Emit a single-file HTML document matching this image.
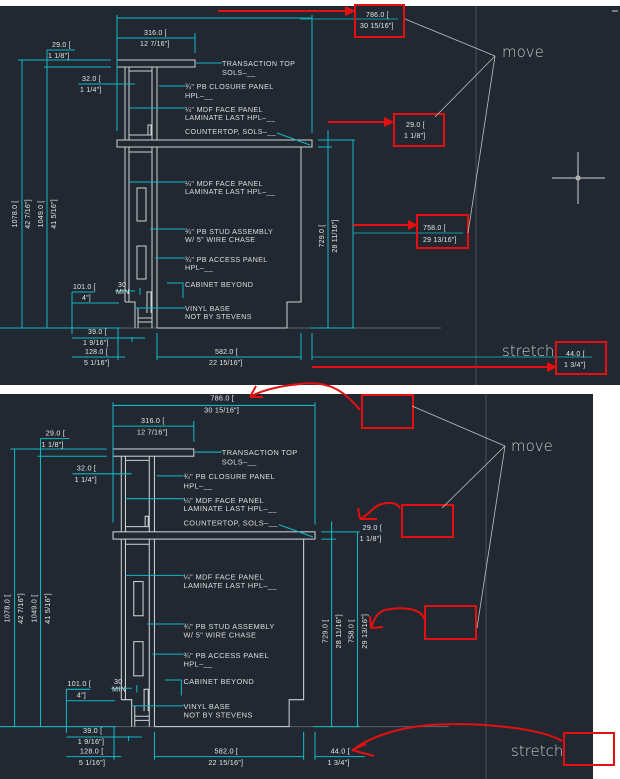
<!DOCTYPE html>
<html><head><meta charset="utf-8"><style>
html,body{margin:0;padding:0;background:#fff;width:620px;height:779px;overflow:hidden}
svg{display:block}
text{font-family:"Liberation Sans",sans-serif}
.t{fill:#dcdcdc;font-size:7.2px;letter-spacing:0.35px}
.d{fill:#e6e6e6;font-size:7px;letter-spacing:0.2px}
.g{stroke:#cfd2d4;stroke-width:1;fill:none}
.c{stroke:#10b8c4;stroke-width:1;fill:none}
.c2{stroke:#0e9aa4;stroke-width:1;fill:none}
.r{stroke:#e41010;stroke-width:2;fill:none}
.big{fill:#c8c8c8;font-size:15px;font-family:"DejaVu Sans","Liberation Sans",sans-serif;font-weight:300}
</style></head><body>
<svg width="620" height="779" viewBox="0 0 620 779" xmlns="http://www.w3.org/2000/svg">
<rect x="0" y="0" width="620" height="779" fill="#fff"/>
<rect x="0" y="6" width="620" height="379" fill="#222831"/>
<rect x="0" y="394" width="593" height="385" fill="#222831"/>

<!-- ===== TOP PANEL DRAWING ===== -->
<g id="top">
<line x1="476" y1="6" x2="476" y2="385" stroke="#4a5058"/>
<line x1="0" y1="328" x2="441" y2="328" stroke="#5a6068"/>
<!-- geometry -->
<rect class="g" x="117" y="60" width="78" height="7"/>
<rect class="g" x="117" y="140" width="195" height="7"/>
<path class="g" d="M125 67V140M129 67V140M152 67V140M157 67V140M129 71H152M129 135H152M148 135V125H151V135"/>
<path class="g" d="M125 147V302M129 147V302M152 147V328M157 147V328M129 152H152M125 302H135V328M138 308V328M138 318H152M138 322H152M147 313V292H151V313M301 147V302H287V328H157"/>
<rect class="g" x="137" y="188" width="9" height="33"/>
<rect class="g" x="137" y="246" width="9" height="33"/>
<!-- dims -->
<path class="c" d="M117 38H195M117 15V131M195 33V53M117 18H312M312 15V133"/>
<path class="c" d="M18 60H111M44 67H111M47 50H75M47 50V328M22 60V328M0 328H120"/>
<path class="c" d="M78 84H135M72 292H95M72 303H119M72 292V334M72 338H145M72 357H125M118 328V360M157 333V360M157 357H301M301 333V360M312 333V360M132 337V342"/>
<path class="c" d="M318 140H355M318 147H332M328 130V328M353 140V328M310 328H355"/>
<path class="c" d="M115 291H135M140 288V295"/>
<!-- leaders -->
<path class="c" d="M196 63H222M159 86H185M129 108H185M129 182H185M150 229H185M155 258H185M167 283H183L183 298M135 308H185M277 133L310 145"/>
<!-- labels -->
<text class="t" x="222" y="66">TRANSACTION TOP</text>
<text class="t" x="222" y="75">SOLS–__</text>
<text class="t" x="185" y="89">¾" PB CLOSURE PANEL</text>
<text class="t" x="185" y="98">HPL–__</text>
<text class="t" x="185" y="112">¼" MDF FACE PANEL</text>
<text class="t" x="185" y="120">LAMINATE LAST HPL–__</text>
<text class="t" x="185" y="134">COUNTERTOP, SOLS–__</text>
<text class="t" x="185" y="186">¼" MDF FACE PANEL</text>
<text class="t" x="185" y="194">LAMINATE LAST HPL–__</text>
<text class="t" x="185" y="234">¾" PB STUD ASSEMBLY</text>
<text class="t" x="185" y="242">W/ 5" WIRE CHASE</text>
<text class="t" x="185" y="262">¾" PB ACCESS PANEL</text>
<text class="t" x="185" y="270">HPL–__</text>
<text class="t" x="185" y="287">CABINET BEYOND</text>
<text class="t" x="185" y="311">VINYL BASE</text>
<text class="t" x="185" y="319">NOT BY STEVENS</text>
<text class="d" x="118" y="287">30</text>
<text class="d" x="116" y="294">MIN</text>
<text class="d" x="144" y="35">316.0 [</text>
<text class="d" x="140" y="46">12 7/16"]</text>
<text class="d" x="52" y="47">29.0 [</text>
<text class="d" x="48" y="58">1 1/8"]</text>
<text class="d" x="82" y="81">32.0 [</text>
<text class="d" x="80" y="92">1 1/4"]</text>
<text class="d" x="73" y="289">101.0 [</text>
<text class="d" x="82" y="300">4"]</text>
<text class="d" x="88" y="334">39.0 [</text>
<text class="d" x="83" y="345">1 9/16"]</text>
<text class="d" x="85" y="354">128.0 [</text>
<text class="d" x="84" y="365">5 1/16"]</text>
<text class="d" x="215" y="354">582.0 [</text>
<text class="d" x="209" y="365">22 15/16"]</text>
<text class="d" transform="translate(17,214) rotate(-90)" text-anchor="middle">1078.0 [</text>
<text class="d" transform="translate(30,214) rotate(-90)" text-anchor="middle">42 7/16"]</text>
<text class="d" transform="translate(43,214) rotate(-90)" text-anchor="middle">1049.0 [</text>
<text class="d" transform="translate(56,214) rotate(-90)" text-anchor="middle">41 5/16"]</text>
<text class="d" transform="translate(324,236) rotate(-90)" text-anchor="middle">729.0 [</text>
<text class="d" transform="translate(337,236) rotate(-90)" text-anchor="middle">28 11/16"]</text>
</g>
<!-- top-only -->
<path class="c2" d="M300 19H398M353 233H463M312 357H592"/>
<path class="r" d="M218 11H345"/><polygon points="345,6 356,11 345,16" fill="#e41010"/>
<rect class="r" x="355" y="5" width="49" height="32"/>
<text class="d" x="366" y="17">786.0 [</text>
<text class="d" x="360" y="28">30 15/16"]</text>
<path class="r" d="M328 122H384"/><polygon points="384,117 394,122 384,127" fill="#e41010"/>
<rect class="r" x="394" y="114" width="50" height="32"/>
<text class="d" x="406" y="127">29.0 [</text>
<text class="d" x="404" y="138">1 1/8"]</text>
<path class="r" d="M353 225H408"/><polygon points="408,220 418,225 408,230" fill="#e41010"/>
<rect class="r" x="417" y="215" width="51" height="33"/>
<text class="d" x="423" y="230">758.0 [</text>
<text class="d" x="423" y="242">29 13/16"]</text>
<path class="r" d="M312 367H547"/><polygon points="547,362 557,367 547,372" fill="#e41010"/>
<rect class="r" x="556" y="342" width="50" height="32"/>
<text class="d" x="566" y="356">44.0 [</text>
<text class="d" x="564" y="367">1 3/4"]</text>
<path d="M405 19L495 56M435 117L495 56M468 233L495 56" stroke="#c0c0c0" stroke-width="0.8" fill="none"/>
<text class="big" x="502" y="57">move</text>
<text class="big" x="502" y="356">stretch</text>
<path d="M552 178H605M578 152V204" stroke="#d0d0d0" stroke-width="1"/>
<circle cx="578" cy="178" r="2" fill="none" stroke="#d0d0d0"/>
<path d="M612 11H618" stroke="#ccc"/>

<!-- ===== BOTTOM PANEL DRAWING ===== -->
<line x1="486" y1="394" x2="486" y2="779" stroke="#4a5058"/>
<g transform="translate(-8.2,386.8) scale(1.036)">
<line x1="0" y1="328" x2="441" y2="328" stroke="#5a6068"/>
<rect class="g" x="117" y="60" width="78" height="7"/>
<rect class="g" x="117" y="140" width="195" height="7"/>
<path class="g" d="M125 67V140M129 67V140M152 67V140M157 67V140M129 71H152M129 135H152M148 135V125H151V135"/>
<path class="g" d="M125 147V302M129 147V302M152 147V328M157 147V328M129 152H152M125 302H135V328M138 308V328M138 318H152M138 322H152M147 313V292H151V313M301 147V302H287V328H157"/>
<rect class="g" x="137" y="188" width="9" height="33"/>
<rect class="g" x="137" y="246" width="9" height="33"/>
<path class="c" d="M117 38H195M117 15V131M195 33V53M117 18H312M312 15V133"/>
<path class="c" d="M18 60H111M44 67H111M47 50H75M47 50V328M22 60V328M0 328H120"/>
<path class="c" d="M78 84H135M72 292H95M72 303H119M72 292V334M72 338H145M72 357H125M118 328V360M157 333V360M157 357H301M301 333V360M312 333V360M132 337V342"/>
<path class="c" d="M318 140H355M318 147H332M328 130V328M353 140V328M310 328H355M312 357H360"/>
<path class="c" d="M115 291H135M140 288V295"/>
<path class="c" d="M196 63H222M159 86H185M129 108H185M129 182H185M150 229H185M155 258H185M167 283H183L183 298M135 308H185M277 133L310 145"/>
<text class="t" x="222" y="66">TRANSACTION TOP</text>
<text class="t" x="222" y="75">SOLS–__</text>
<text class="t" x="185" y="89">¾" PB CLOSURE PANEL</text>
<text class="t" x="185" y="98">HPL–__</text>
<text class="t" x="185" y="112">¼" MDF FACE PANEL</text>
<text class="t" x="185" y="120">LAMINATE LAST HPL–__</text>
<text class="t" x="185" y="134">COUNTERTOP, SOLS–__</text>
<text class="t" x="185" y="186">¼" MDF FACE PANEL</text>
<text class="t" x="185" y="194">LAMINATE LAST HPL–__</text>
<text class="t" x="185" y="234">¾" PB STUD ASSEMBLY</text>
<text class="t" x="185" y="242">W/ 5" WIRE CHASE</text>
<text class="t" x="185" y="262">¾" PB ACCESS PANEL</text>
<text class="t" x="185" y="270">HPL–__</text>
<text class="t" x="185" y="287">CABINET BEYOND</text>
<text class="t" x="185" y="311">VINYL BASE</text>
<text class="t" x="185" y="319">NOT BY STEVENS</text>
<text class="d" x="118" y="287">30</text>
<text class="d" x="116" y="294">MIN</text>
<text class="d" x="144" y="35">316.0 [</text>
<text class="d" x="140" y="46">12 7/16"]</text>
<text class="d" x="52" y="47">29.0 [</text>
<text class="d" x="48" y="58">1 1/8"]</text>
<text class="d" x="82" y="81">32.0 [</text>
<text class="d" x="80" y="92">1 1/4"]</text>
<text class="d" x="73" y="289">101.0 [</text>
<text class="d" x="82" y="300">4"]</text>
<text class="d" x="88" y="334">39.0 [</text>
<text class="d" x="83" y="345">1 9/16"]</text>
<text class="d" x="85" y="354">128.0 [</text>
<text class="d" x="84" y="365">5 1/16"]</text>
<text class="d" x="215" y="354">582.0 [</text>
<text class="d" x="209" y="365">22 15/16"]</text>
<text class="d" transform="translate(17,214) rotate(-90)" text-anchor="middle">1078.0 [</text>
<text class="d" transform="translate(30,214) rotate(-90)" text-anchor="middle">42 7/16"]</text>
<text class="d" transform="translate(43,214) rotate(-90)" text-anchor="middle">1049.0 [</text>
<text class="d" transform="translate(56,214) rotate(-90)" text-anchor="middle">41 5/16"]</text>
<text class="d" transform="translate(324,236) rotate(-90)" text-anchor="middle">729.0 [</text>
<text class="d" transform="translate(337,236) rotate(-90)" text-anchor="middle">28 11/16"]</text>
<text class="d" transform="translate(349,236) rotate(-90)" text-anchor="middle">758.0 [</text>
<text class="d" transform="translate(362,236) rotate(-90)" text-anchor="middle">29 13/16"]</text>
<text class="d" x="211" y="13">786.0 [</text>
<text class="d" x="205" y="25">30 15/16"]</text>
<text class="d" x="358" y="138">29.0 [</text>
<text class="d" x="355" y="149">1 1/8"]</text>
<text class="d" x="327" y="354">44.0 [</text>
<text class="d" x="324" y="365">1 3/4"]</text>
</g>
<!-- bottom red -->
<rect class="r" x="362" y="395" width="51" height="33"/>
<rect class="r" x="402" y="505" width="51" height="32"/>
<rect class="r" x="425" y="606" width="51" height="33"/>
<rect class="r" x="564" y="733" width="50" height="32"/>
<path class="r" stroke-width="1.6" d="M360 410C345 392 330 380 300 384C280 386 262 390 250 397M250 397L256 386M250 397L263 397"/>
<path class="r" stroke-width="1.6" d="M400 508C395 500 380 502 372 510C366 516 362 518 361 519M360 519L358 508M360 519L377 519"/>
<path class="r" stroke-width="1.6" d="M425 620C420 605 395 608 385 610C376 613 374 620 371 628M371 628L370 616M371 628L383 627"/>
<path class="r" stroke-width="1.6" d="M562 741C540 728 480 722 430 725C395 728 368 738 353 750M352 750L366 744M352 750L374 756"/>
<path d="M412 406L505 446M442 508L505 446M477 628L505 446" stroke="#c0c0c0" stroke-width="0.8" fill="none"/>
<text class="big" x="511" y="451">move</text>
<text class="big" x="511" y="756">stretch</text>
</svg>
</body></html>
